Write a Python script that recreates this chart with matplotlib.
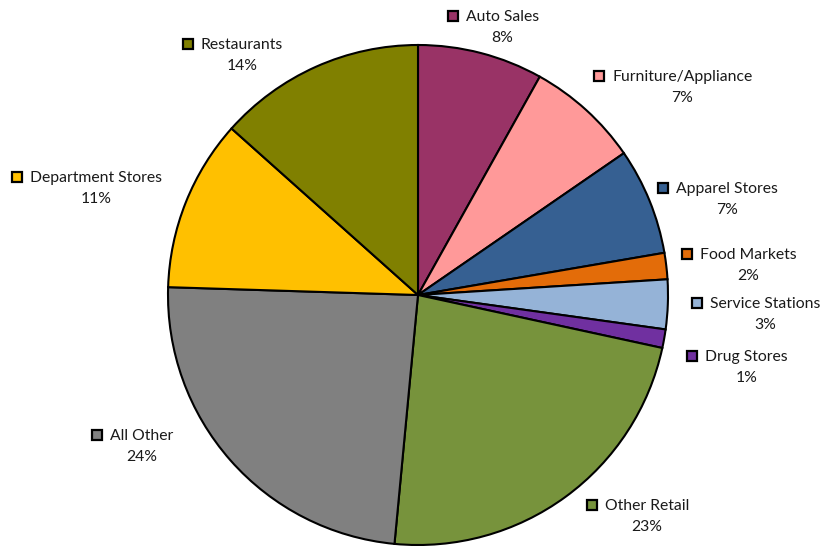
import matplotlib
matplotlib.use("Agg")
import matplotlib.pyplot as plt

categories = ["Auto Sales", "Furniture/Appliance", "Apparel Stores", "Food Markets",
              "Service Stations", "Drug Stores", "Other Retail", "All Other",
              "Department Stores", "Restaurants"]
values = [8.1, 7.3, 6.9, 1.7, 3.2, 1.2, 23.1, 24.0, 11.1, 13.4]
pct_labels = ["8%", "7%", "7%", "2%", "3%", "1%", "23%", "24%", "11%", "14%"]

colors = ["#993366", "#FF9999", "#366092", "#E36C09", "#95B3D7", "#7030A0",
          "#77933C", "#808080", "#FFC000", "#808000"]

# layout: left x of name text, baseline y of name (image pixel coords, y down)
label_pos = [(466, 21), (612, 81), (676, 193), (700, 259), (710, 308),
             (705, 361), (605, 510), (110, 440), (30, 182), (201, 49)]

W, H = 826, 546
fig = plt.figure(figsize=(W / 100, H / 100), dpi=100)
ax = fig.add_axes([0, 0, 1, 1])
ax.set_xlim(0, W)
ax.set_ylim(0, H)
ax.set_aspect("equal")
ax.axis("off")

cx, cy, r = 418, H - 295, 250
ax.pie(values, colors=colors, startangle=90, counterclock=False,
       center=(cx, cy), radius=r,
       wedgeprops=dict(edgecolor="black", linewidth=1.5))
ax.set_xlim(0, W)
ax.set_ylim(0, H)

font = "Lato"
fs = 11.3
texts = []
for name, (x, y) in zip(categories, label_pos):
    t = ax.text(x, H - y, name, ha="left", va="baseline", fontsize=fs,
                family=font, color="#1a1a1a")
    texts.append(t)

fig.canvas.draw()
renderer = fig.canvas.get_renderer()
inv = ax.transData.inverted()
for t, pct, col, (x, y) in zip(texts, pct_labels, colors, label_pos):
    bb = t.get_window_extent(renderer)
    (x0, _), (x1, _) = inv.transform([[bb.x0, bb.y0], [bb.x1, bb.y1]])
    ax.text((x0 + x1) / 2, H - y - 21, pct, ha="center", va="baseline",
            fontsize=fs, family=font, color="#1a1a1a")
    ax.plot([x - 13], [H - y + 5.5], marker="s", markersize=7.5,
            markerfacecolor=col, markeredgecolor="black", markeredgewidth=1.6,
            linestyle="none")

fig.savefig("out.png", dpi=100, facecolor="white")
